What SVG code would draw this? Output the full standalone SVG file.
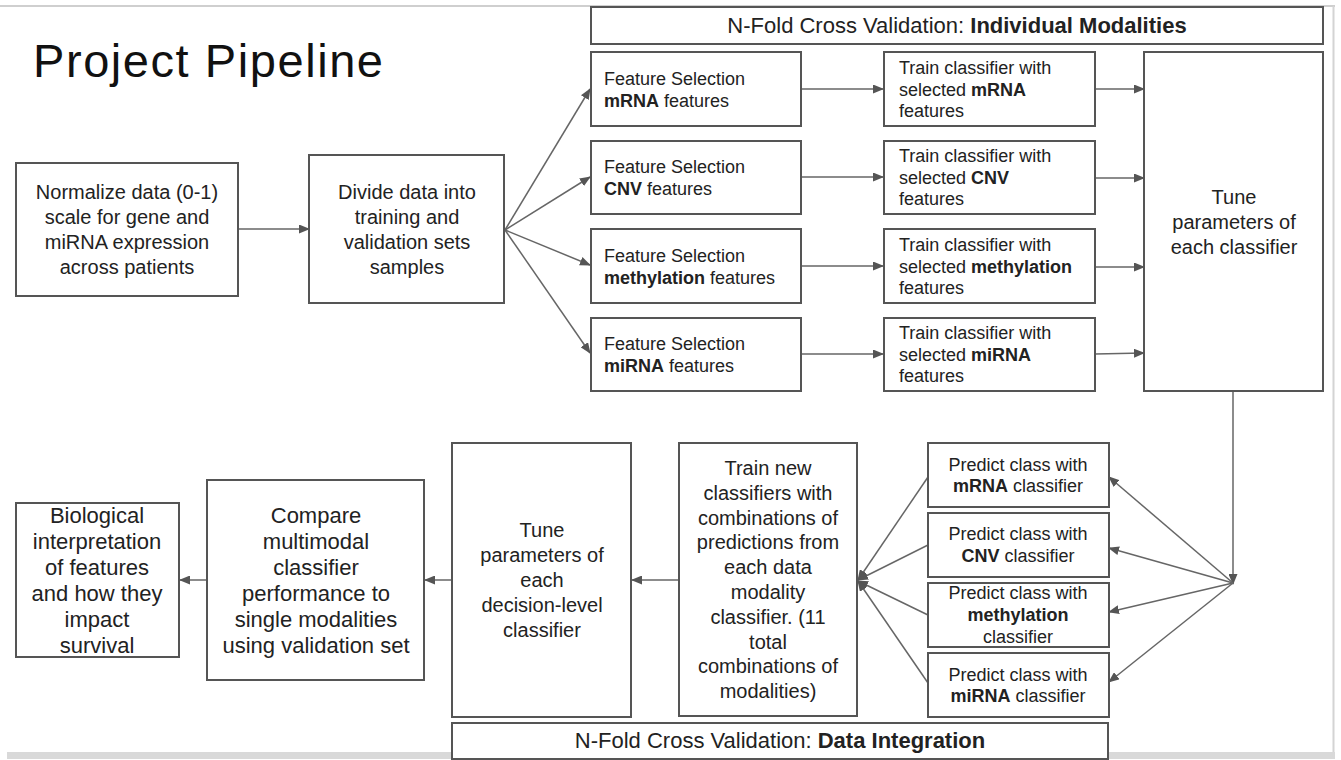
<svg xmlns="http://www.w3.org/2000/svg" width="1341" height="760" viewBox="0 0 1341 760">
<style>
text{font-family:"Liberation Sans",Arial,sans-serif;fill:#222}
.b{fill:#fff;stroke:#555;stroke-width:2}
.c{fill:none;stroke:#666;stroke-width:1.5}
.s18{font-size:18px}
.s20{font-size:20px}
.s22{font-size:22px}
.m{text-anchor:middle}
.bd{font-weight:bold}
</style>
<defs>
<marker id="ah" markerUnits="userSpaceOnUse" markerWidth="11" markerHeight="9" refX="10" refY="4.5" orient="auto">
<path d="M0,0 L11,4.5 L0,9 z" fill="#555"/>
</marker>
</defs>
<rect x="0" y="0" width="1341" height="760" fill="#fff"/>
<line x1="0" y1="6" x2="1335" y2="6" stroke="#cfcfcf" stroke-width="2"/>
<line x1="1333.5" y1="6" x2="1333.5" y2="753" stroke="#d4d4d4" stroke-width="2"/>
<rect x="7" y="752" width="1328" height="7" fill="#d9d9d9"/>

<text x="33" y="77" style="font-size:47px;fill:#111" textLength="350">Project Pipeline</text>

<g id="connectors">
<line class="c" x1="238" y1="229" x2="309" y2="229" marker-end="url(#ah)"/>
<line class="c" x1="505" y1="230" x2="590" y2="89" marker-end="url(#ah)"/>
<line class="c" x1="505" y1="230" x2="590" y2="177" marker-end="url(#ah)"/>
<line class="c" x1="505" y1="230" x2="590" y2="265" marker-end="url(#ah)"/>
<line class="c" x1="505" y1="230" x2="590" y2="353" marker-end="url(#ah)"/>
<line class="c" x1="801" y1="89" x2="883" y2="89" marker-end="url(#ah)"/>
<line class="c" x1="801" y1="177" x2="883" y2="177" marker-end="url(#ah)"/>
<line class="c" x1="801" y1="266" x2="883" y2="266" marker-end="url(#ah)"/>
<line class="c" x1="801" y1="354" x2="883" y2="354" marker-end="url(#ah)"/>
<line class="c" x1="1095" y1="89" x2="1144" y2="89" marker-end="url(#ah)"/>
<line class="c" x1="1095" y1="178" x2="1144" y2="178" marker-end="url(#ah)"/>
<line class="c" x1="1095" y1="267" x2="1144" y2="267" marker-end="url(#ah)"/>
<line class="c" x1="1095" y1="354" x2="1144" y2="353" marker-end="url(#ah)"/>
<line class="c" x1="1233" y1="391" x2="1233" y2="584" marker-end="url(#ah)"/>
<line class="c" x1="1233" y1="583" x2="1109" y2="477" marker-end="url(#ah)"/>
<line class="c" x1="1233" y1="583" x2="1109" y2="548" marker-end="url(#ah)"/>
<line class="c" x1="1233" y1="583" x2="1109" y2="612" marker-end="url(#ah)"/>
<line class="c" x1="1233" y1="583" x2="1109" y2="682" marker-end="url(#ah)"/>
<line class="c" x1="928" y1="477" x2="858" y2="580" marker-end="url(#ah)"/>
<line class="c" x1="928" y1="545" x2="858" y2="580" marker-end="url(#ah)"/>
<line class="c" x1="928" y1="615" x2="858" y2="581" marker-end="url(#ah)"/>
<line class="c" x1="928" y1="683" x2="858" y2="581" marker-end="url(#ah)"/>
<line class="c" x1="679" y1="580" x2="632" y2="580" marker-end="url(#ah)"/>
<line class="c" x1="452" y1="580" x2="425" y2="580" marker-end="url(#ah)"/>
<line class="c" x1="207" y1="580" x2="180" y2="580" marker-end="url(#ah)"/>
</g>

<g id="normalize">
<rect class="b" x="16" y="163" width="222" height="133"/>
<text class="s20 m" x="127" y="199">Normalize data (0-1)</text>
<text class="s20 m" x="127" y="224">scale for gene and</text>
<text class="s20 m" x="127" y="249">miRNA expression</text>
<text class="s20 m" x="127" y="274">across patients</text>
</g>

<g id="divide">
<rect class="b" x="309" y="155" width="195" height="148"/>
<text class="s20 m" x="407" y="199">Divide data into</text>
<text class="s20 m" x="407" y="224">training and</text>
<text class="s20 m" x="407" y="249">validation sets</text>
<text class="s20 m" x="407" y="274">samples</text>
</g>

<g id="header-individual">
<rect class="b" x="591" y="7" width="732" height="37"/>
<text class="s22 m" x="957" y="33">N-Fold Cross Validation: <tspan class="bd">Individual Modalities</tspan></text>
</g>

<g id="fs-mrna">
<rect class="b" x="591" y="52" width="210" height="74"/>
<text class="s18" x="604" y="85">Feature Selection</text>
<text class="s18" x="604" y="107"><tspan class="bd">mRNA</tspan> features</text>
</g>
<g id="fs-cnv">
<rect class="b" x="591" y="141" width="210" height="73"/>
<text class="s18" x="604" y="173">Feature Selection</text>
<text class="s18" x="604" y="195"><tspan class="bd">CNV</tspan> features</text>
</g>
<g id="fs-methylation">
<rect class="b" x="591" y="229" width="210" height="74"/>
<text class="s18" x="604" y="262">Feature Selection</text>
<text class="s18" x="604" y="284"><tspan class="bd">methylation</tspan> features</text>
</g>
<g id="fs-mirna">
<rect class="b" x="591" y="318" width="210" height="73"/>
<text class="s18" x="604" y="350">Feature Selection</text>
<text class="s18" x="604" y="372"><tspan class="bd">miRNA</tspan> features</text>
</g>

<g id="train-mrna">
<rect class="b" x="884" y="52" width="211" height="74"/>
<text class="s18" x="899" y="74">Train classifier with</text>
<text class="s18" x="899" y="95.5">selected <tspan class="bd">mRNA</tspan></text>
<text class="s18" x="899" y="117">features</text>
</g>
<g id="train-cnv">
<rect class="b" x="884" y="141" width="211" height="73"/>
<text class="s18" x="899" y="162">Train classifier with</text>
<text class="s18" x="899" y="183.5">selected <tspan class="bd">CNV</tspan></text>
<text class="s18" x="899" y="205">features</text>
</g>
<g id="train-methylation">
<rect class="b" x="884" y="229" width="211" height="74"/>
<text class="s18" x="899" y="251">Train classifier with</text>
<text class="s18" x="899" y="272.5">selected <tspan class="bd">methylation</tspan></text>
<text class="s18" x="899" y="294">features</text>
</g>
<g id="train-mirna">
<rect class="b" x="884" y="318" width="211" height="73"/>
<text class="s18" x="899" y="339">Train classifier with</text>
<text class="s18" x="899" y="360.5">selected <tspan class="bd">miRNA</tspan></text>
<text class="s18" x="899" y="382">features</text>
</g>

<g id="tune-individual">
<rect class="b" x="1144" y="52" width="179" height="339"/>
<text class="s20 m" x="1234" y="204">Tune</text>
<text class="s20 m" x="1234" y="229">parameters of</text>
<text class="s20 m" x="1234" y="254">each classifier</text>
</g>

<g id="predict-mrna">
<rect class="b" x="928" y="443" width="181" height="64"/>
<text class="s18 m" x="1018" y="471">Predict class with</text>
<text class="s18 m" x="1018" y="492"><tspan class="bd">mRNA</tspan> classifier</text>
</g>
<g id="predict-cnv">
<rect class="b" x="928" y="513" width="181" height="64"/>
<text class="s18 m" x="1018" y="540">Predict class with</text>
<text class="s18 m" x="1018" y="562"><tspan class="bd">CNV</tspan> classifier</text>
</g>
<g id="predict-methylation">
<rect class="b" x="928" y="583" width="181" height="64"/>
<text class="s18 m" x="1018" y="599">Predict class with</text>
<text class="s18 m" x="1018" y="621"><tspan class="bd">methylation</tspan></text>
<text class="s18 m" x="1018" y="643">classifier</text>
</g>
<g id="predict-mirna">
<rect class="b" x="928" y="653" width="181" height="64"/>
<text class="s18 m" x="1018" y="681">Predict class with</text>
<text class="s18 m" x="1018" y="702"><tspan class="bd">miRNA</tspan> classifier</text>
</g>

<g id="train-new">
<rect class="b" x="679" y="443" width="178" height="273"/>
<text class="s20 m" x="768" y="475">Train new</text>
<text class="s20 m" x="768" y="500">classifiers with</text>
<text class="s20 m" x="768" y="525">combinations of</text>
<text class="s20 m" x="768" y="549">predictions from</text>
<text class="s20 m" x="768" y="574">each data</text>
<text class="s20 m" x="768" y="599">modality</text>
<text class="s20 m" x="768" y="624">classifier. (11</text>
<text class="s20 m" x="768" y="649">total</text>
<text class="s20 m" x="768" y="673">combinations of</text>
<text class="s20 m" x="768" y="698">modalities)</text>
</g>

<g id="tune-decision">
<rect class="b" x="452" y="443" width="179" height="274"/>
<text class="s20 m" x="542" y="537">Tune</text>
<text class="s20 m" x="542" y="562">parameters of</text>
<text class="s20 m" x="542" y="587">each</text>
<text class="s20 m" x="542" y="612">decision-level</text>
<text class="s20 m" x="542" y="637">classifier</text>
</g>

<g id="compare">
<rect class="b" x="207" y="480" width="217" height="200"/>
<text class="s22 m" x="316" y="523">Compare</text>
<text class="s22 m" x="316" y="549">multimodal</text>
<text class="s22 m" x="316" y="575">classifier</text>
<text class="s22 m" x="316" y="601">performance to</text>
<text class="s22 m" x="316" y="627">single modalities</text>
<text class="s22 m" x="316" y="653">using validation set</text>
</g>

<g id="biological">
<rect class="b" x="16" y="503" width="163" height="154"/>
<text class="s22 m" x="97" y="523">Biological</text>
<text class="s22 m" x="97" y="549">interpretation</text>
<text class="s22 m" x="97" y="575">of features</text>
<text class="s22 m" x="97" y="601">and how they</text>
<text class="s22 m" x="97" y="627">impact</text>
<text class="s22 m" x="97" y="653">survival</text>
</g>

<g id="header-integration">
<rect class="b" x="452" y="723" width="656" height="36"/>
<text class="s22 m" x="780" y="748">N-Fold Cross Validation: <tspan class="bd">Data Integration</tspan></text>
</g>
</svg>
